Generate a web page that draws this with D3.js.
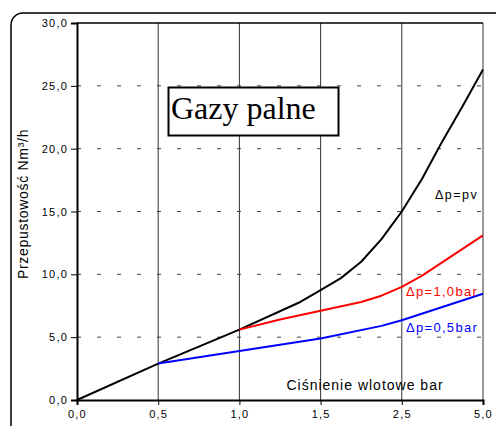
<!DOCTYPE html>
<html>
<head>
<meta charset="utf-8">
<script src="https://cdn.jsdelivr.net/npm/d3@7"></script>
<style>
  body { margin: 0; background: #fff; }
  svg { display: block; }
  text { font-family: "Liberation Sans", Arial, sans-serif; }
</style>
</head>
<body>
<div id="chart"></div>
<script>
// x categories (equally spaced)
const categories = ["0,0", "0,5", "1,0", "1,5", "2,5", "5,0"];
const yTicks = [0, 5, 10, 15, 20, 25, 30];

// series: position on category axis + flow value
const blackPos = [0, 1, 2, 2.75, 3, 3.25, 3.5, 3.75, 4, 4.25, 4.5, 4.75, 5];
const blackVal = [0, 2.9, 5.6, 7.8, 8.75, 9.7, 11.0, 12.8, 15.0, 17.6, 20.6, 23.4, 26.3];
const redPos = [2, 2.5, 3, 3.5, 3.75, 4, 4.25, 5];
const redVal = [5.6, 6.4, 7.1, 7.8, 8.3, 9.0, 9.9, 13.1];
const bluePos = [1, 2, 3, 3.75, 4, 5];
const blueVal = [2.9, 3.9, 4.9, 5.9, 6.35, 8.45];

const width = 496, height = 426;
const mLeft = 77, mRight = 483, mTop = 23, mBottom = 400;

const svg = d3.select("#chart").append("svg")
  .attr("width", width)
  .attr("height", height);

// outer rounded frame
svg.append("rect")
  .attr("x", 11).attr("y", 13)
  .attr("width", 500).attr("height", 430)
  .attr("rx", 12)
  .attr("fill", "none")
  .attr("stroke", "#000")
  .attr("stroke-width", 1.5);

const x = d3.scaleLinear().domain([0, categories.length - 1]).range([mLeft, mRight]);
const y = d3.scaleLinear().domain([0, 30]).range([mBottom, mTop]);

// horizontal dashed gridlines
svg.append("g")
  .selectAll("line")
  .data(yTicks.filter(d => d > 0 && d < 30))
  .enter().append("line")
  .attr("x1", mLeft).attr("x2", mRight)
  .attr("y1", d => y(d)).attr("y2", d => y(d))
  .attr("stroke", "#444")
  .attr("stroke-dasharray", "4,16");

// vertical gridlines
svg.append("g")
  .selectAll("line")
  .data(d3.range(1, categories.length))
  .enter().append("line")
  .attr("x1", d => x(d)).attr("x2", d => x(d))
  .attr("y1", mTop).attr("y2", mBottom)
  .attr("stroke", "#333")
  .attr("stroke-width", 1);

// top border
svg.append("line")
  .attr("x1", mLeft).attr("x2", mRight)
  .attr("y1", mTop).attr("y2", mTop)
  .attr("stroke", "#000").attr("stroke-width", 1.5);

// axes
const yAxis = d3.axisLeft(y).tickValues(yTicks).tickSize(6)
  .tickFormat(d => d3.format(".1f")(d).replace(".", ","));
const gy = svg.append("g").attr("transform", `translate(${mLeft},0)`).call(yAxis);
gy.selectAll("text").attr("font-size", 11).attr("fill", "#000")
  .style("letter-spacing", "1.2px").attr("x", -9);
gy.select(".domain").attr("stroke-width", 2);

const xAxis = d3.axisBottom(x).tickValues(d3.range(categories.length)).tickSize(5)
  .tickFormat(i => categories[i]);
const gx = svg.append("g").attr("transform", `translate(0,${mBottom})`).call(xAxis);
gx.selectAll("text").attr("font-size", 11).attr("fill", "#000")
  .style("letter-spacing", "1.2px").attr("dy", "0.9em");
gx.select(".domain").attr("stroke-width", 2);

// lines
const line = d3.line().x(d => x(d[0])).y(d => y(d[1]));
const series = [
  { pos: blackPos, val: blackVal, color: "#000" },
  { pos: redPos, val: redVal, color: "#ff0000" },
  { pos: bluePos, val: blueVal, color: "#0000ff" }
];
series.forEach(s => {
  svg.append("path")
    .attr("d", line(d3.zip(s.pos, s.val)))
    .attr("fill", "none")
    .attr("stroke", s.color)
    .attr("stroke-width", 2)
    .attr("stroke-linejoin", "round");
});

// series labels
svg.append("text").attr("x", 435).attr("y", 199)
  .attr("font-size", 12.5).attr("fill", "#000")
  .style("letter-spacing", "1.5px").text("\u0394p=pv");
svg.append("text").attr("x", 406).attr("y", 296)
  .attr("font-size", 13).attr("fill", "#ff0000")
  .style("letter-spacing", "1.3px").text("\u0394p=1,0bar");
svg.append("text").attr("x", 406).attr("y", 332)
  .attr("font-size", 13).attr("fill", "#0000ff")
  .style("letter-spacing", "1.3px").text("\u0394p=0,5bar");

// x axis title inside plot
svg.append("text").attr("x", 365).attr("y", 390)
  .attr("text-anchor", "middle").attr("font-size", 14).attr("fill", "#000")
  .style("letter-spacing", "1px")
  .text("Ciśnienie wlotowe bar");

// y axis title
svg.append("text")
  .attr("transform", "translate(28,204) rotate(-90)")
  .attr("text-anchor", "middle").attr("font-size", 14).attr("fill", "#000")
  .style("letter-spacing", "0.7px")
  .text("Przepustowość Nm³/h");

// title box
svg.append("rect")
  .attr("x", 168.5).attr("y", 87.5).attr("width", 170).attr("height", 48)
  .attr("fill", "#fff").attr("stroke", "#000").attr("stroke-width", 2);
svg.append("text").attr("x", 171).attr("y", 119)
  .style("font-family", "'Liberation Serif', 'Times New Roman', serif")
  .attr("font-size", 32).attr("fill", "#000").text("Gazy palne");
</script>
</body>
</html>
